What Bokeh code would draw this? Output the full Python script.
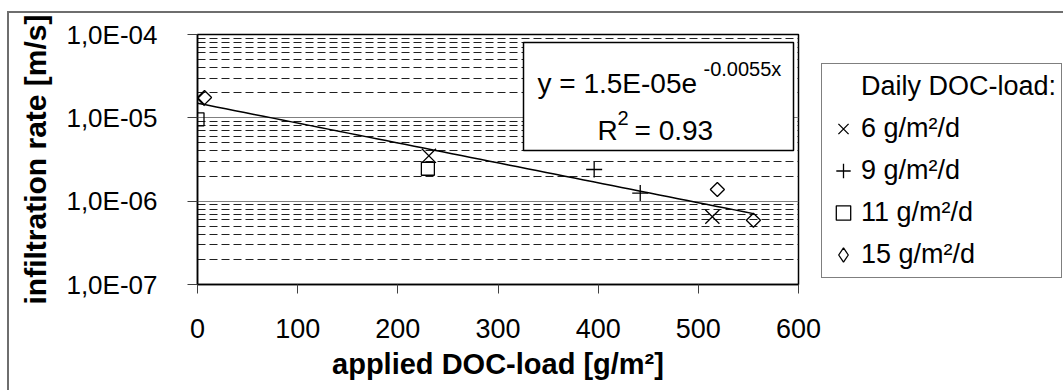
import numpy as np
from bokeh.plotting import figure
from bokeh.models import (FixedTicker, CustomJSTickFormatter, Label, BoxAnnotation,
                          Legend, LegendItem, Range1d)
from bokeh.embed import file_html
from bokeh.resources import INLINE

# ---------------- data ----------------
x_6 = [0, 231, 514]
y_6 = [1.7e-5, 3.5e-6, 6.5e-7]
x_9 = [396, 442]
y_9 = [2.4e-6, 1.25e-6]
x_11 = [0, 230]
y_11 = [9.6e-6, 2.45e-6]
x_15 = [7, 519, 555]
y_15 = [1.75e-5, 1.38e-6, 5.9e-7]

series_labels = ["6 g/m²/d", "9 g/m²/d", "11 g/m²/d", "15 g/m²/d"]
legend_title = "Daily DOC-load:"

fit_a = 1.5e-5
fit_b = -0.0055
fit_x_range = [0, 555]
eq_main = "y = 1.5E-05e"
eq_exp = "-0.0055x"
r2_main = "R"
r2_sup = "2"
r2_rest = "= 0.93"

x_ticks = [0, 100, 200, 300, 400, 500, 600]
y_ticks = [1e-7, 1e-6, 1e-5, 1e-4]
y_tick_labels = ["1,0E-07", "1,0E-06", "1,0E-05", "1,0E-04"]
x_title = "applied DOC-load [g/m²]"
y_title = "infiltration rate [m/s]"

# ---------------- layout constants (page pixels) ----------------
FONT = "Liberation Sans"
PX0, PY0 = 9, 13         # canvas origin on page (after css margin + border)
CW, CH = 1052, 377       # canvas size
FL, FT, FW, FH = 197, 34, 601, 250   # frame on page


def dx(px):
    return (px - FL) * 600.0 / FW


def dy(py):
    return 10 ** (-4 - (py - FT) * 3.0 / FH)


p = figure(frame_width=FW, frame_height=FH, y_axis_type="log",
           x_range=Range1d(0, 600), y_range=Range1d(1e-7, 1e-4),
           output_backend="svg", toolbar_location=None,
           min_border_left=FL - PX0, min_border_top=FT - PY0,
           min_border_right=CW - (FL - PX0) - FW,
           min_border_bottom=CH - (FT - PY0) - FH)
p.styles = {"margin-left": "7px", "margin-top": "11px",
            "border-left": "2px solid #6e6e6e", "border-top": "2px solid #6e6e6e",
            "border-right": "2px solid #6e6e6e"}
p.background_fill_color = "white"
p.border_fill_color = "white"
p.outline_line_color = "black"
p.outline_line_width = 1.5

# ---------------- axes ----------------
p.xaxis.ticker = FixedTicker(ticks=x_ticks)
p.xaxis.major_tick_out = 9
p.xaxis.major_tick_in = 0
p.xaxis.minor_tick_line_color = None
p.xaxis.major_tick_line_color = "#404040"
p.xaxis.axis_line_color = "black"
p.xaxis.axis_line_width = 1.5
p.xaxis.major_label_text_font = FONT
p.xaxis.major_label_text_font_size = "27px"
p.xaxis.major_label_text_color = "black"
p.xaxis.major_label_standoff = 25
p.xaxis.axis_label = x_title
p.xaxis.axis_label_text_font = FONT
p.xaxis.axis_label_text_font_size = "29px"
p.xaxis.axis_label_text_font_style = "bold"
p.xaxis.axis_label_text_color = "black"
p.xaxis.axis_label_standoff = 7

minor = [m * d for d in [1e-7, 1e-6, 1e-5] for m in range(2, 10)]
yticker = FixedTicker(ticks=y_ticks, minor_ticks=minor)
p.yaxis.ticker = yticker
p.ygrid.ticker = yticker
p.yaxis.formatter = CustomJSTickFormatter(args=dict(vals=y_ticks, labs=y_tick_labels), code="""
let best = 0;
for (let i = 0; i < vals.length; i++) {
  if (Math.abs(Math.log10(vals[i]) - Math.log10(tick)) < Math.abs(Math.log10(vals[best]) - Math.log10(tick))) best = i;
}
return labs[best];
""")
p.yaxis.major_tick_out = 10
p.yaxis.major_tick_in = 0
p.yaxis.minor_tick_line_color = None
p.yaxis.major_tick_line_color = "#404040"
p.yaxis.axis_line_color = "black"
p.yaxis.axis_line_width = 1.5
p.yaxis.major_label_text_font = FONT
p.yaxis.major_label_text_font_size = "26px"
p.yaxis.major_label_text_color = "black"
p.yaxis.major_label_standoff = 30
p.yaxis.axis_label = y_title
p.yaxis.axis_label_text_font = FONT
p.yaxis.axis_label_text_font_size = "30px"
p.yaxis.axis_label_text_font_style = "bold"
p.yaxis.axis_label_text_color = "black"
p.yaxis.axis_label_standoff = 11

p.xgrid.grid_line_color = None
p.ygrid.grid_line_color = "#808080"
p.ygrid.grid_line_width = 1
p.ygrid.minor_grid_line_color = "#202020"
p.ygrid.minor_grid_line_width = 1
p.ygrid.minor_grid_line_dash = "8 4"

# ---------------- trendline ----------------
xf = np.linspace(fit_x_range[0], fit_x_range[1], 60)
p.line(xf, fit_a * np.exp(fit_b * xf), line_color="black", line_width=1.5)

# ---------------- markers ----------------
mk = dict(line_color="black", line_width=1.3)
r6 = p.scatter(x_6, y_6, marker="x", size=20, **mk)
r9 = p.scatter(x_9, y_9, marker="cross", size=16, **mk)
r11 = p.scatter(x_11, y_11, marker="square", size=13, fill_color=None, **mk)
r15 = p.scatter(x_15, y_15, marker="square", angle=np.pi / 4, size=10, fill_color=None, **mk)
# legend-only swatch (NaN, draws nothing in the plot): the legend does not rotate markers
r15_leg = p.scatter([np.nan], [np.nan], marker="diamond", size=10, fill_color=None, **mk)
r_title = p.scatter([], [], marker="square", size=1, line_alpha=0, fill_alpha=0)

# ---------------- equation box ----------------
p.add_layout(BoxAnnotation(left=dx(523), right=dx(793), top=dy(42), bottom=dy(150),
                           fill_color="white", fill_alpha=1, line_color="black",
                           line_width=1.5, line_alpha=1))
lab_kw = dict(text_font=FONT, text_color="black", text_baseline="alphabetic")
p.add_layout(Label(x=dx(537), y=dy(83), text=eq_main, text_font_size="28px", **lab_kw))
p.add_layout(Label(x=dx(703), y=dy(68), text=eq_exp, text_font_size="20px", **lab_kw))
p.add_layout(Label(x=dx(597), y=dy(130), text=r2_main, text_font_size="28px", **lab_kw))
p.add_layout(Label(x=dx(617), y=dy(117), text=r2_sup, text_font_size="20px", **lab_kw))
p.add_layout(Label(x=dx(634), y=dy(130), text=r2_rest, text_font_size="28px", **lab_kw))

# ---------------- legend (right panel) ----------------
LB_L, LB_T, LB_R, LB_B = 821, 65, 1060, 278
pad, gw, gh, sp, stand = 3, 36, 39, 3, 0
legend = Legend(items=[LegendItem(label=legend_title, renderers=[r_title]),
                       LegendItem(label=series_labels[0], renderers=[r6]),
                       LegendItem(label=series_labels[1], renderers=[r9]),
                       LegendItem(label=series_labels[2], renderers=[r11]),
                       LegendItem(label=series_labels[3], renderers=[r15_leg])],
                location=(LB_L - (FL + FW), FT + FH - LB_B),
                padding=pad, spacing=sp, margin=0,
                glyph_width=gw, glyph_height=gh, label_height=gh,
                label_width=LB_R - LB_L - 2 * pad - gw - stand,
                label_standoff=stand,
                border_line_color="black", border_line_width=1.2,
                background_fill_color="white", background_fill_alpha=1,
                label_text_font=FONT, label_text_font_size="27px",
                label_text_color="black")
p.add_layout(legend, "right")

open("out.html", "w").write(file_html(p, INLINE))
